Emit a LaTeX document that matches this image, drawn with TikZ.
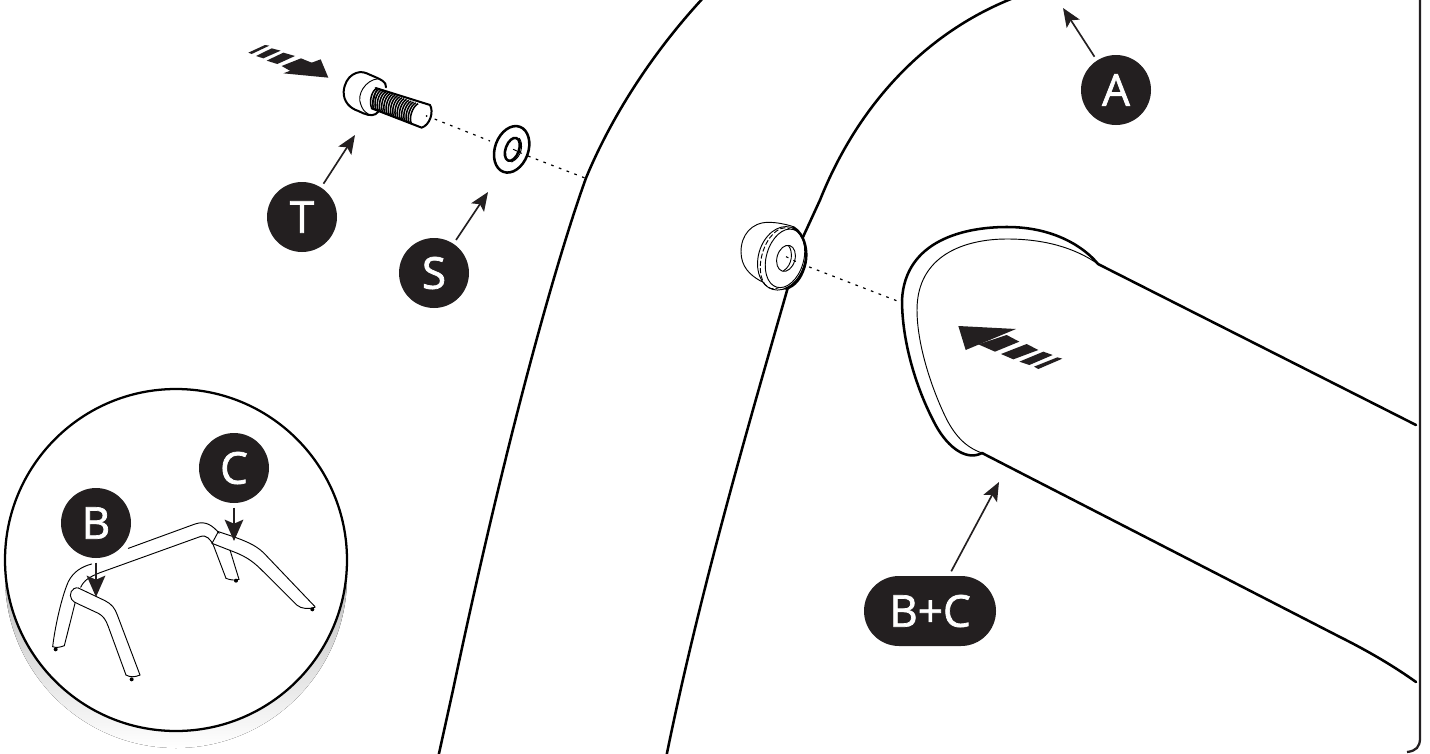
\documentclass[tikz,border=0pt]{standalone}
\usepackage{fontspec}
\setmainfont{Open Sans}
\newfontfamily\tagfont[FakeBold=1.6]{Open Sans}
\usetikzlibrary{arrows.meta,shapes.misc}
\definecolor{ink}{HTML}{231F20}
\definecolor{shade}{HTML}{E6E6E6}
\tikzset{
  heavy/.style={line width=1.9pt,black,line cap=round,line join=round},
  medium/.style={line width=1.5pt,black,line cap=round,line join=round},
  fine/.style={line width=0.7pt,black,line cap=round,line join=round},
  dotline/.style={line width=0.9pt,black,dash pattern=on 2pt off 4.2pt},
  tag/.style={circle,fill=ink,text=white,inner sep=0pt,minimum size=52.5pt,outer sep=3.5pt,font=\tagfont\fontsize{33}{33}\selectfont},
  pilltag/.style={rounded rectangle,fill=ink,text=white,inner sep=0pt,minimum width=99pt,minimum height=52.5pt,outer sep=3.5pt,font=\tagfont\fontsize{33}{33}\selectfont},
  pointer/.style={line width=1.25pt,ink,-{Stealth[length=14pt,width=11.5pt,inset=3pt]}},
  bigpointer/.style={line width=1.25pt,ink,-{Stealth[length=16pt,width=14pt,inset=3pt]}},
  stripe/.style={fill=ink,draw=none}
}
\begin{document}
\begin{tikzpicture}[x=0.75pt,y=-0.75pt]
\useasboundingbox (0,0) rectangle (1430,753);
\fill[white] (0,0) rectangle (1430,753);
\clip (0,0) rectangle (1430,753);

% frame edge
\draw[line width=1.7pt,ink] (1420,-5) -- (1420,738) .. controls (1420,747) and (1416,751) .. (1407,752);

% large curves
\draw[heavy] (704,-3) .. controls (650,55) and (610,120) .. (586,178)
   .. controls (560,250) and (510,420) .. (453,690) -- (438,758);
\draw[heavy] (1016,-3) .. controls (930,30) and (860,100) .. (820,200) -- (803,237);
\draw[heavy] (788,287) .. controls (750,420) and (700,590) .. (666,758);

% tube
\draw[heavy] (1098,264) -- (1416,425);
\draw[heavy] (982,453) -- (1340,637) .. controls (1370,652) and (1395,667) .. (1416,682);
\draw[heavy] (1098,264) .. controls (1085,248) and (1055,227) .. (1007,227)
   .. controls (965,227) and (905,240) .. (902,300)
   .. controls (902,340) and (915,385) .. (933,420)
   .. controls (945,445) and (965,462) .. (982,453);
\draw[fine] (1098,264) .. controls (1075,248) and (1045,239) .. (1007,239)
   .. controls (965,239) and (917,255) .. (917,310)
   .. controls (917,345) and (932,390) .. (947,420)
   .. controls (955,435) and (965,447) .. (982,453);

% block arrow on the tube
\begin{scope}[shift={(720,200)},scale=1/3]
  \fill[stripe] (715,378) -- (888,387) -- (737,450) -- cycle;
  \fill[stripe] (775,433) -- (860,405) -- (898,425) -- (825,455) -- cycle;
  \fill[stripe] (843,462) -- (920,432) -- (955,450) -- (880,478) -- cycle;
  \fill[stripe] (898,485) -- (970,455) -- (998,465) -- (928,495) -- cycle;
  \fill[stripe] (942,500) -- (1012,472) -- (1027,476) -- (955,507) -- cycle;
\end{scope}

% block arrow at the bolt
\begin{scope}[shift={(230,30)},scale=1/3]
  \fill[stripe] (272,88) -- (295,143) -- (160,130) -- cycle;
  \fill[stripe] (155,108) -- (213,85) -- (250,100) -- (190,128) -- cycle;
  \fill[stripe] (110,92) -- (160,68) -- (195,78) -- (142,102) -- cycle;
  \fill[stripe] (78,78) -- (125,55) -- (152,62) -- (100,85) -- cycle;
  \fill[stripe] (55,68) -- (105,45) -- (118,47) -- (65,72) -- cycle;
\end{scope}

% dotted axis
\coordinate (boltend) at (427,116);
\coordinate (washerL) at (490,141);
\coordinate (washerR) at (528,156);
\coordinate (wallhit) at (585,178);
\coordinate (spacerhole) at (786,258);
\coordinate (capedge) at (900,302);
\draw[dotline] (boltend) -- (washerL);
\draw[dotline] (washerR) -- (wallhit);
\draw[dotline] (spacerhole) -- (capedge);

% bolt
\begin{scope}[shift={(230,30)},scale=1/3]
  \draw[medium,fill=white] (468,172) .. controls (470,155) and (450,148) .. (440,143)
     -- (410,130) .. controls (385,118) and (345,135) .. (341,185)
     .. controls (340,215) and (360,235) .. (385,243)
     -- (400,250) .. controls (420,258) and (435,258) .. (445,245);
  \draw[fine] (445,146) .. controls (405,150) and (380,195) .. (392,222) .. controls (396,235) and (402,245) .. (415,252);
  \draw[fine,fill=white] (440,175) -- (600,225) .. controls (612,245) and (600,285) .. (575,293) -- (425,235) -- cycle;
  \foreach \i in {0,...,18}{
    \pgfmathsetmacro{\xa}{440+6.9*\i}
    \pgfmathsetmacro{\ya}{175+2.55*\i}
    \pgfmathsetmacro{\xb}{426+6.6*\i}
    \pgfmathsetmacro{\yb}{236+2.55*\i}
    \draw[line width=1.15pt,black] (\xa,\ya) .. controls (\xa-16,\ya+8) and (\xb-10,\yb-18) .. (\xb,\yb);
  }
  \draw[medium] (437,174) -- (600,225) .. controls (612,245) and (600,285) .. (575,293) -- (425,235);
  \fill (590,258) circle (3);
\end{scope}

% washer
\begin{scope}[shift={(230,30)},scale=1/3]
  \draw[heavy,fill=white,shift={(845,358)},rotate=-20] (0,0) ellipse [x radius=50,y radius=72];
  \draw[heavy,shift={(847,358)},rotate=-20] (0,0) ellipse [x radius=20,y radius=36];
  \draw[fine] (868,325) .. controls (880,340) and (878,380) .. (845,396);
  \draw[fine] (850,358) -- (875,370);
\end{scope}

% spacer
\begin{scope}[shift={(730,210)},scale=1/3]
  \draw[fine,fill=white] (190,50) .. controls (165,42) and (140,37) .. (115,37)
     .. controls (65,37) and (33,75) .. (33,125)
     .. controls (33,170) and (60,195) .. (90,212)
     -- (135,232) .. controls (155,240) and (170,238) .. (180,232);
  \draw[fine,fill=white,shift={(155,145)},rotate=-16] (0,0) ellipse [x radius=70,y radius=97];
  \draw[fine,dash pattern=on 3.5pt off 2pt,shift={(148,145)},rotate=-16] (0,0) ellipse [x radius=53,y radius=94];
  \draw[fine,fill=white,shift={(165,145)},rotate=-16] (0,0) ellipse [x radius=56,y radius=90];
  \draw[heavy] (190,52) .. controls (225,72) and (238,130) .. (222,175)
     .. controls (212,205) and (195,228) .. (168,236);
  \draw[fine,shift={(168,145)},rotate=-16] (0,0) ellipse [x radius=27,y radius=40];
  \draw[fine] (175,106) .. controls (190,125) and (188,165) .. (160,183);
  \draw[dotline,line width=.8pt] (168,140) -- (205,158);
\end{scope}

% magnifier
\fill[shade] (176,577) circle [radius=171];
\draw[line width=1.7pt,black,fill=white] (176,560) circle [radius=171];

% chair
\begin{scope}[shift={(0,380)},scale=1/3]
  \draw[fine] (158,800) .. controls (165,740) and (185,650) .. (205,605)
     .. controls (220,575) and (245,560) .. (275,552);
  \draw[fine] (385,505) -- (585,432) .. controls (620,420) and (640,440) .. (658,460);
  \draw[fine] (193,797) -- (225,670);
  \draw[fine] (242,622) .. controls (252,600) and (270,590) .. (300,578) -- (600,470)
     .. controls (620,462) and (632,480) .. (640,495) -- (678,595);
  \draw[fine] (690,510) -- (717,598);
  \draw[fine] (678,595) .. controls (690,600) and (705,602) .. (717,598);
  \draw[fine] (158,800) .. controls (168,804) and (180,802) .. (193,797);
  \draw[fine] (655,455) -- (636,490);
  \draw[fine] (655,455) -- (700,470) .. controls (750,488) and (775,500) .. (800,528) -- (945,680);
  \draw[fine] (636,490) -- (700,515) .. controls (745,532) and (765,550) .. (790,575) -- (890,675)
     .. controls (905,687) and (925,688) .. (945,682);
  \draw[fine] (235,624) -- (315,662) .. controls (335,672) and (345,685) .. (352,705) -- (420,885);
  \draw[fine] (235,624) .. controls (215,620) and (205,645) .. (215,658) .. controls (220,665) and (225,668) .. (235,672)
     -- (295,700) .. controls (310,708) and (318,720) .. (325,740) -- (378,885);
  \draw[fine] (378,885) .. controls (390,892) and (405,892) .. (420,885);
  \foreach \p in {(167,808),(395,898),(708,602),(937,688)}
    \fill \p circle (6);
\end{scope}

% tags and pointers
\coordinate (tipA) at (1063,8);
\coordinate (tipT) at (355,135);
\coordinate (tipS) at (488,192);
\coordinate (tipBC) at (999,482);
\coordinate (tipC) at (234,541);
\coordinate (tipB) at (96,597);
\node[tag] (A) at (1116,90) {A};
\node[tag] (T) at (302,217) {T};
\node[tag] (S) at (434,273) {S};
\node[tag] (C) at (234,468) {C};
\node[tag] (B) at (96,523) {B};
\node[pilltag] (BC) at (930,611) {B+C};
\draw[pointer] (A) -- (tipA);
\draw[pointer] (T) -- (tipT);
\draw[pointer] (S) -- (tipS);
\draw[pointer] (BC) -- (tipBC);
\draw[bigpointer] (C) -- (tipC);
\draw[bigpointer] (B) -- (tipB);
\end{tikzpicture}
\end{document}
